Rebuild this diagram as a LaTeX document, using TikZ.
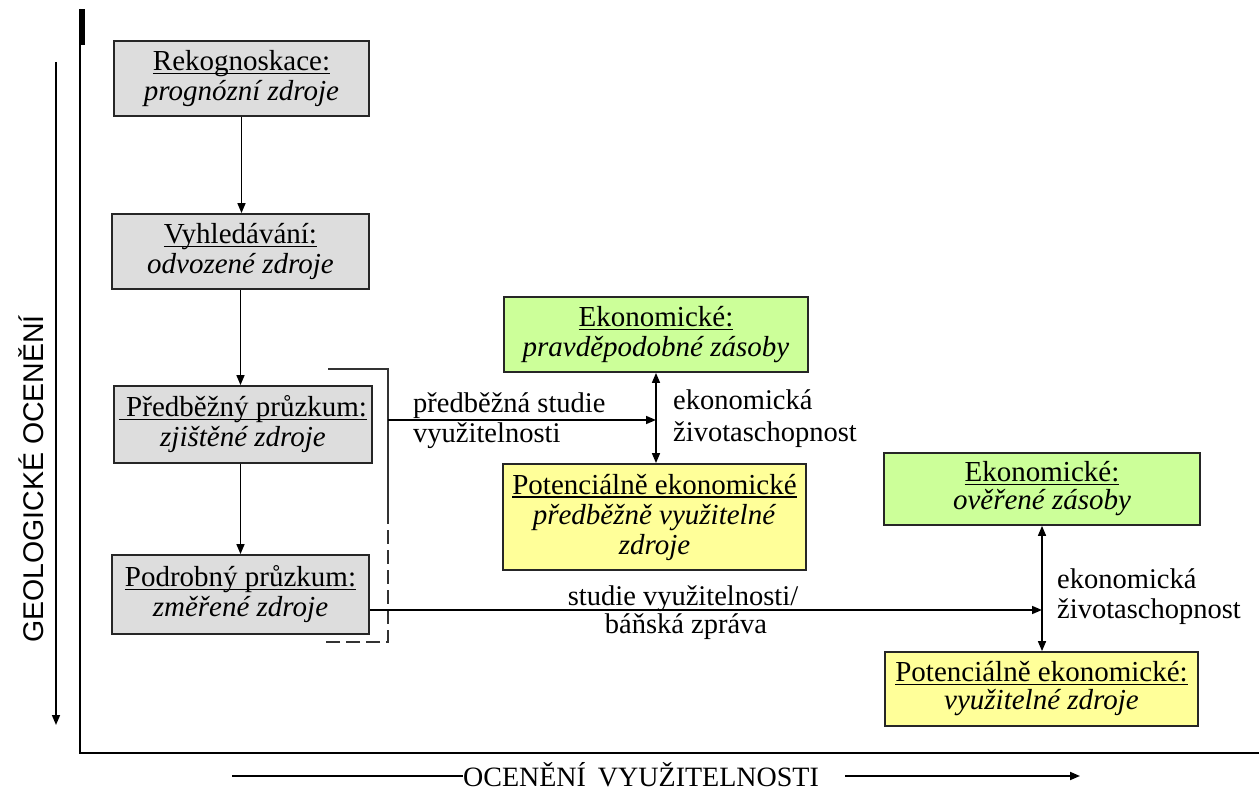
\documentclass[tikz,border=0pt]{standalone}
\usepackage{fontspec}
\setmainfont{Liberation Serif}
\newfontfamily\sansfam{Liberation Sans}
\usetikzlibrary{arrows.meta}
\definecolor{boxgray}{RGB}{221,221,221}
\definecolor{boxgreen}{RGB}{204,255,153}
\definecolor{boxyellow}{RGB}{255,255,153}
\newcommand\myul[1]{\setbox0\hbox{#1}\rlap{\rule[-3.5pt]{\wd0}{1.3pt}}\box0}
\tikzset{
  box/.style={draw=black!85, line width=1.8pt, inner sep=0pt, align=center,
    font=\fontsize{29}{30}\selectfont},
  graybox/.style={box, fill=boxgray},
  greenbox/.style={box, fill=boxgreen},
  yellowbox/.style={box, fill=boxyellow},
  lbl/.style={inner sep=0pt, font=\fontsize{28.5}{30}\selectfont},
  arr/.style={line width=1.6pt, -{Triangle[length=10pt,width=8pt]}},
  dbl/.style={line width=1.6pt, {Triangle[length=10pt,width=8pt]}-{Triangle[length=10pt,width=8pt]}},
  axis/.style={line width=2pt},
}
\begin{document}
\begin{tikzpicture}[x=1pt,y=-1pt]
\useasboundingbox (0,0) rectangle (1259,791);

% axes
\coordinate (axtop) at (80,9);
\coordinate (axcorner) at (80,753);
\coordinate (axright) at (1259,753);
\draw[axis] (axtop) -- (axcorner) -- (axright);
\fill (79,9) rectangle (85,45);

% vertical axis arrow and label
\coordinate (va1) at (56,62);
\coordinate (va2) at (56,725);
\draw[arr] (va1) -- (va2);
\node[inner sep=0pt, rotate=90, anchor=base, font=\sansfam\fontsize{28.5}{30}\selectfont] (geo) at (43,479) {GEOLOGICKÉ OCENĚNÍ};

% horizontal axis arrow and label
\node[lbl, anchor=base, font=\fontsize{28}{30}\selectfont] (ocen) at (641,786) {OCENĚNÍ\hspace{12pt}VYUŽITELNOSTI};
\coordinate (ha1) at (232,776);
\coordinate (ha2) at (845,776);
\coordinate (ha3) at (1080,776);
\draw[line width=1.8pt] (ha1) -- (ha1 -| ocen.west);
\draw[arr, line width=1.8pt] (ha2) -- (ha3);

% gray boxes
\node[graybox, minimum width=255pt, minimum height=75pt] (b1) at (241.5,78.5)
  {\myul{Rekognoskace:}\\ \textit{prognózní zdroje}};
\node[graybox, minimum width=257pt, minimum height=75pt] (b2) at (240.5,251.5)
  {\myul{Vyhledávání:}\\ \textit{odvozené zdroje}};
\node[graybox, minimum width=258pt, minimum height=77pt] (b3) at (243,424.5)
  {\myul{\ Předběžný průzkum:}\\ \textit{zjištěné zdroje}};
\node[graybox, minimum width=257pt, minimum height=79pt] (b4) at (240.5,594.5)
  {\myul{Podrobný průzkum:}\\ \textit{změřené zdroje}};

% green / yellow boxes
\node[greenbox, minimum width=304pt, minimum height=75pt] (g1) at (656,334.5)
  {\myul{Ekonomické:}\\ \textit{pravděpodobné zásoby}};
\node[yellowbox, minimum width=303pt, minimum height=106pt] (y1) at (654.5,517)
  {\myul{Potenciálně ekonomické}\\ \textit{předběžně využitelné}\\ \textit{zdroje}};
\node[greenbox, minimum width=316pt, minimum height=72pt, font=\fontsize{29}{28}\selectfont] (g2) at (1042,489)
  {\myul{Ekonomické:}\\ \textit{ověřené zásoby}};
\node[yellowbox, minimum width=313pt, minimum height=74pt, font=\fontsize{29}{28}\selectfont] (y2) at (1041.5,689)
  {\myul{Potenciálně ekonomické:}\\ \textit{využitelné zdroje}};

% vertical flow arrows
\draw[arr] (b1.south) -- (b1.south |- b2.north);
\draw[arr] (b2.south) -- (b2.south |- b3.north);
\draw[arr] (b3.south -| b4.north) -- (b4.north);

% bracket
\coordinate (k1) at (328,369);
\coordinate (k2) at (388,369);
\coordinate (k3) at (388,510);
\coordinate (k4) at (388,642);
\coordinate (k5) at (325,642);
\draw[line width=1.8pt, black!80] (k1) -- (k2) -- (k3);
\draw[line width=1.8pt, black!80, dash pattern=on 14pt off 6pt] (k3) -- (k4) -- (k5);

% preliminary study arrow
\coordinate (brk) at (388,420);
\draw[arr] (brk) -- (g1.south |- brk);
\node[lbl, anchor=base west] (l1a) at (413,413) {předběžná studie};
\node[lbl, anchor=base west] (l1b) at (413,443) {využitelnosti};

% economic viability 1
\draw[dbl] (g1.south) -- (g1.south |- y1.north);
\node[lbl, anchor=base west] (e1a) at (673,410) {ekonomická};
\node[lbl, anchor=base west] (e1b) at (673,442) {životaschopnost};

% feasibility study arrow
\coordinate (s0) at ([yshift=-15.5pt]b4.east);
\draw[arr] (s0) -- (s0 -| g2.south);
\node[lbl, anchor=base] (s1a) at (683,605) {studie využitelnosti/};
\node[lbl, anchor=base] (s1b) at (686,633) {báňská zpráva};

% economic viability 2
\draw[dbl] (g2.south) -- (g2.south |- y2.north);
\node[lbl, anchor=base west] (e2a) at (1057,588) {ekonomická};
\node[lbl, anchor=base west] (e2b) at (1057,618) {životaschopnost};
\end{tikzpicture}
\end{document}
